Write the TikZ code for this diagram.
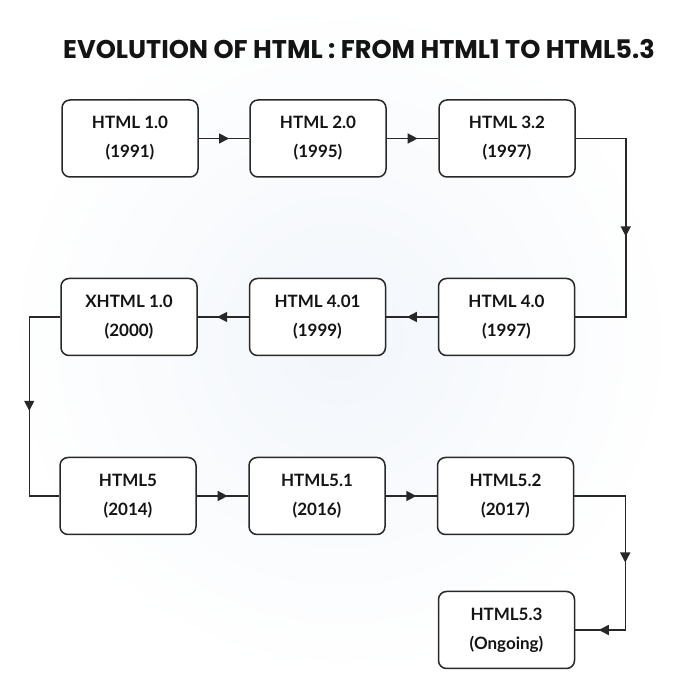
\documentclass[tikz,border=0pt]{standalone}
\usepackage{fontspec}
\setmainfont{Lato}
\newfontfamily\titlefont{Poppins}
\usetikzlibrary{positioning, arrows.meta, decorations.markings, calc}
\definecolor{LineColor}{RGB}{40,40,40}
\definecolor{TextColor}{RGB}{20,20,20}
\definecolor{BgColor}{RGB}{242,246,251}
\tikzstyle{version} = [draw=LineColor, line width=1.5pt, fill=white, rounded corners=8pt, minimum width=136pt, minimum height=77pt, inner sep=0pt, align=center, text=TextColor, font=\bfseries\fontsize{17}{29}\selectfont]
\tikzstyle{link} = [line width=1.5pt, LineColor]
\tikzstyle{midarrow} = [link, decoration={markings, mark=at position #1 with {\arrow{Triangle[length=10pt,width=10pt]}}}, postaction={decorate}]

\begin{document}
\begin{tikzpicture}[x=1pt, y=1pt]
    % background
    \useasboundingbox (0,0) rectangle (680,680);
    \shade[inner color=BgColor, outer color=white] (0,0) rectangle (680,680);

    % title
    \node[text=TextColor, font=\titlefont\bfseries\fontsize{25.6}{30}\selectfont] (title) at (359,631) {EVOLUTION OF HTML : FROM HTML1 TO HTML5.3};

    % versions, row by row
    \node[version] (h10) at (130,541.5) {HTML 1.0\\(1991)};
    \node[version] (h20) at (318,541.5) {HTML 2.0\\(1995)};
    \node[version] (h32) at (507,541.5) {HTML 3.2\\(1997)};

    \node[version] (xh10) at (129,363) {XHTML 1.0\\(2000)};
    \node[version] (h401) at (317.5,363) {HTML 4.01\\(1999)};
    \node[version] (h40) at (506.5,363) {HTML 4.0\\(1997)};

    \node[version] (h5) at (128,184) {HTML5\\(2014)};
    \node[version] (h51) at (317,184) {HTML5.1\\(2016)};
    \node[version] (h52) at (505.5,184) {HTML5.2\\(2017)};

    \node[version] (h53) at (506.5,50) {HTML5.3\\(Ongoing)};

    % links
    \draw[midarrow=0.6] (h10.east) -- (h20.west);
    \draw[midarrow=0.6] (h20.east) -- (h32.west);
    \draw[midarrow=0.53] (h32.east) -- ++(50,0) |- (h40.east);
    \draw[midarrow=0.6] (h40.west) -- (h401.east);
    \draw[midarrow=0.62] (h401.west) -- (xh10.east);
    \draw[midarrow=0.52] (xh10.west) -- ++(-31,0) |- (h5.west);
    \draw[midarrow=0.6] (h5.east) -- (h51.west);
    \draw[midarrow=0.6] (h51.east) -- (h52.west);
    \draw[link, decoration={markings, mark=at position 0.5 with {\arrow{Triangle[length=10pt,width=10pt]}}, mark=at position 0.9 with {\arrow{Triangle[length=10pt,width=10pt]}}}, postaction={decorate}] (h52.east) -- ++(51,0) |- (h53.east);
\end{tikzpicture}
\end{document}
